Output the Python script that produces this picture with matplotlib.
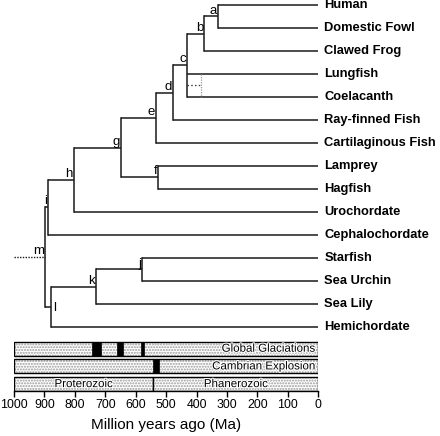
import matplotlib
matplotlib.use("Agg")
import matplotlib.pyplot as plt
from matplotlib.patches import Rectangle
import matplotlib.patheffects as pe

plt.rcParams['font.family'] = ['Liberation Sans', 'DejaVu Sans']
plt.rcParams['hatch.linewidth'] = 1.0

# ---------------- data ----------------
leaves = ["Human", "Domestic Fowl", "Clawed Frog", "Lungfish", "Coelacanth",
          "Ray-finned Fish", "Cartilaginous Fish", "Lamprey", "Hagfish",
          "Urochordate", "Cephalochordate", "Starfish", "Sea Urchin",
          "Sea Lily", "Hemichordate"]
node_names = ['a', 'b', 'c', 'd', 'e', 'f', 'g', 'h', 'i', 'j', 'k', 'l', 'm']
node_ages = [330, 375, 432, 476, 533, 526, 649, 803, 889, 578, 731, 880, 898]
node_children = [
    ['Human', 'Domestic Fowl'],
    ['a', 'Clawed Frog'],
    ['b', 'Lungfish', 'Coelacanth'],
    ['c', 'Ray-finned Fish'],
    ['d', 'Cartilaginous Fish'],
    ['Lamprey', 'Hagfish'],
    ['e', 'f'],
    ['g', 'Urochordate'],
    ['h', 'Cephalochordate'],
    ['Starfish', 'Sea Urchin'],
    ['j', 'Sea Lily'],
    ['k', 'Hemichordate'],
    ['i', 'l'],
]
root_start = 1000
alt_clade = ['Lungfish', 'Coelacanth']
alt_clade_age = 385

glaciations = [(745, 715), (660, 641), (583, 572)]
cambrian = [(544, 525)]
eon_boundary = 542
eon_names = ["Proterozoic", "Phanerozoic"]
bar_titles = ["Global Glaciations", "Cambrian Explosion"]
xticks = [1000, 900, 800, 700, 600, 500, 400, 300, 200, 100, 0]
xlabel = "Million years ago (Ma)"

# ---------------- figure ----------------
W, H = 440, 436
fig = plt.figure(figsize=(W / 100, H / 100), dpi=100)

x_left, x_right = 14, 318.3
def fx(px):
    return px / W
def fy(py_top):
    return 1 - py_top / H

tree_top, tree_bot = 0, 336
ax = fig.add_axes([fx(x_left), fy(tree_bot), fx(x_right - x_left), (tree_bot - tree_top) / H])
ax.set_autoscale_on(False)
tree_xlim = (1000, 0)
tree_ylim = ((tree_bot - 5) / 23, (tree_top - 5) / 23)
ax.set_xlim(*tree_xlim)
ax.set_ylim(*tree_ylim)
ax.axis('off')

ages = dict(zip(node_names, node_ages))
children = dict(zip(node_names, node_children))
ypos = {name: i for i, name in enumerate(leaves)}
lw = 1.1
col = '#1a1a1a'

def ymid(n):
    if n not in children:
        return ypos[n]
    ch = children[n]
    return (ymid(ch[0]) + ymid(ch[-1])) / 2

def age(n):
    return ages.get(n, 0)

for n in node_names:
    ch = children[n]
    ys = [ymid(c) for c in ch]
    ax.plot([ages[n], ages[n]], [min(ys), max(ys)], color=col, lw=lw, solid_capstyle='projecting')
    for c, yc in zip(ch, ys):
        ax.plot([ages[n], age(c)], [yc, yc], color=col, lw=lw, solid_capstyle='butt')

root = node_names[-1]
ax.plot([root_start, ages[root]], [ymid(root)] * 2, color=col, lw=1.0, ls=(0, (1, 1)))

ya = [ypos[c] for c in alt_clade]
ax.plot([ages['c'], alt_clade_age], [sum(ya) / 2] * 2, color='#333333', lw=0.9, ls=(0, (1.2, 1.8)))
ax.plot([alt_clade_age] * 2, ya, color='#999999', lw=0.9, ls=(0, (1, 1)))

for n in node_names:
    if n == 'l':
        ax.annotate(n, (ages[n], ymid(n)), xytext=(2.2, -0.5), textcoords='offset points',
                    ha='left', va='center', fontsize=9.5)
    else:
        ax.annotate(n, (ages[n], ymid(n)), xytext=(-0.8, 0), textcoords='offset points',
                    ha='right', va='bottom', fontsize=9.5)

for name, y in ypos.items():
    ax.annotate(name, (0, y), xytext=(4.3, 0), textcoords='offset points',
                ha='left', va='center', fontsize=9.3, fontweight='bold', annotation_clip=False)

ax.set_xlim(*tree_xlim)
ax.set_ylim(*tree_ylim)

# ---------------- bars ----------------
bar_top, bar_bot = 340, 391
bx = fig.add_axes([fx(x_left), fy(bar_bot), fx(x_right - x_left), (bar_bot - bar_top) / H])
bh = 0.78
for s in ['top', 'left', 'right']:
    bx.spines[s].set_visible(False)
bx.spines['bottom'].set_linewidth(1.0)
bx.set_yticks([])
bx.set_xticks(xticks)
bx.set_xticklabels([str(t) for t in xticks], fontsize=8.9)
bx.tick_params(axis='x', length=4, width=1.0, pad=2, direction='out')
bx.set_xlabel(xlabel, fontsize=11, labelpad=5)

def stipple(x0, x1, row):
    bx.add_patch(Rectangle((x1, row - bh / 2), x0 - x1, bh, facecolor='white',
                           edgecolor='#9a9a9a', hatch='......', lw=0))
    bx.add_patch(Rectangle((x1, row - bh / 2), x0 - x1, bh, facecolor='none',
                           edgecolor='black', lw=1.0))

def block(x0, x1, row):
    bx.add_patch(Rectangle((x1, row - bh / 2), x0 - x1, bh, facecolor='black',
                           edgecolor='black', lw=0.5))

stipple(1000, 0, 0)
for g0, g1 in glaciations:
    block(g0, g1, 0)
stipple(1000, 0, 1)
for c0, c1 in cambrian:
    block(c0, c1, 1)
stipple(1000, eon_boundary, 2)
stipple(eon_boundary, 0, 2)

halo = [pe.withStroke(linewidth=1.5, foreground='white')]
for row, t in enumerate(bar_titles):
    bx.text(10, row, t, ha='right', va='center', fontsize=8.3, path_effects=halo)
bx.text((1000 + eon_boundary) / 2, 2, eon_names[0], ha='center', va='center', fontsize=8.3, path_effects=halo)
bx.text(eon_boundary / 2, 2, eon_names[1], ha='center', va='center', fontsize=8.3, path_effects=halo)

bx.set_xlim(1000, 0)
bx.set_ylim(2 + bh / 2, (bar_top - 348.6) / 17.5)

fig.savefig("out.png", dpi=100)
